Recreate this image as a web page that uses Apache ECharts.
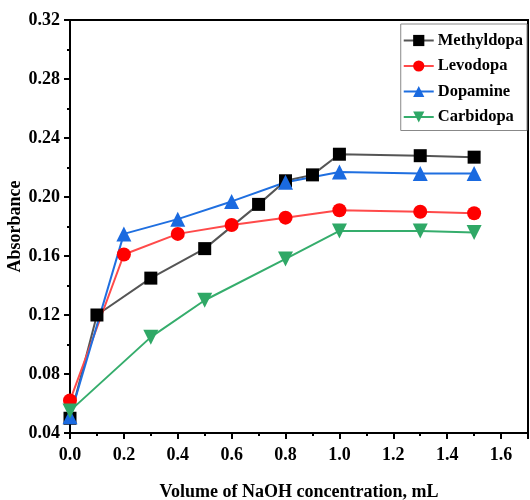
<!DOCTYPE html>
<html>
<head>
<meta charset="utf-8">
<script src="https://cdn.jsdelivr.net/npm/echarts@6/dist/echarts.min.js"></script>
<style>
  html, body { margin: 0; padding: 0; background: #fff; }
  #chart { width: 530px; height: 500px; }
</style>
</head>
<body>
<div id="chart"></div>
<script>
// Absorbance versus volume of NaOH added (mL)
const methyldopaX = [0, 0.1, 0.3, 0.5, 0.7, 0.8, 0.9, 1.0, 1.3, 1.5];
const methyldopaY = [0.050, 0.120, 0.145, 0.165, 0.195, 0.211, 0.215, 0.229, 0.228, 0.227];

const levodopaX = [0, 0.2, 0.4, 0.6, 0.8, 1.0, 1.3, 1.5];
const levodopaY = [0.062, 0.161, 0.175, 0.181, 0.186, 0.191, 0.190, 0.189];

const dopamineX = [0, 0.2, 0.4, 0.6, 0.8, 1.0, 1.3, 1.5];
const dopamineY = [0.051, 0.175, 0.185, 0.197, 0.210, 0.217, 0.216, 0.216];

const carbidopaX = [0, 0.3, 0.5, 0.8, 1.0, 1.3, 1.5];
const carbidopaY = [0.055, 0.105, 0.130, 0.158, 0.177, 0.177, 0.176];

const pairs = (xs, ys) => xs.map((x, i) => [x, ys[i]]);

const FONT = '"Liberation Serif", "Times New Roman", serif';
const textBase = { fontFamily: FONT, fontWeight: 'bold', color: '#000', fontSize: 18 };

function lineSeries(name, data, symbol, size, lineColor, markColor) {
  return {
    name, type: 'line', data, symbol, symbolSize: size,
    lineStyle: { color: lineColor, width: 2 },
    itemStyle: { color: markColor, borderWidth: 0 },
    emphasis: { disabled: true },
    z: 3
  };
}

const chart = echarts.init(document.getElementById('chart'), null, { renderer: 'canvas' });
chart.setOption({
  animation: false,
  backgroundColor: '#fff',
  grid: {
    left: 70, top: 20, right: 2, bottom: 67,
    containLabel: false, outerBoundsMode: 'none',
    show: true, borderColor: '#000', borderWidth: 2, backgroundColor: 'transparent'
  },
  legend: {
    right: 3, top: 24,
    orient: 'vertical',
    itemWidth: 30, itemHeight: 14, itemGap: 8.5,
    padding: [8, 4, 5, 2],
    borderColor: '#888', borderWidth: 1,
    backgroundColor: '#fff',
    textStyle: Object.assign({}, textBase, { fontSize: 16.5, padding: [0, 0, 0, -1] }),
    data: ['Methyldopa', 'Levodopa', 'Dopamine', 'Carbidopa']
  },
  xAxis: {
    type: 'value', min: 0, max: 1.7, interval: 0.2,
    name: 'Volume of NaOH concentration, mL',
    nameLocation: 'middle', nameGap: 50, nameMoveOverlap: false,
    nameTextStyle: textBase,
    axisLine: { show: true, onZero: false, lineStyle: { color: '#000', width: 2 } },
    axisTick: { show: true, length: 6, lineStyle: { color: '#000', width: 2 } },
    minorTick: { show: true, splitNumber: 2, length: 3, lineStyle: { color: '#000', width: 2 } },
    axisLabel: Object.assign({}, textBase, {
      margin: 13, showMaxLabel: false,
      formatter: v => v.toFixed(1)
    }),
    splitLine: { show: false }
  },
  yAxis: {
    type: 'value', min: 0.04, max: 0.32, interval: 0.04,
    name: 'Absorbance',
    nameLocation: 'middle', nameGap: 46, nameRotate: 90, nameMoveOverlap: false,
    nameTextStyle: textBase,
    axisLine: { show: true, onZero: false, lineStyle: { color: '#000', width: 2 } },
    axisTick: { show: true, length: 6, lineStyle: { color: '#000', width: 2 } },
    minorTick: { show: true, splitNumber: 2, length: 3, lineStyle: { color: '#000', width: 2 } },
    axisLabel: Object.assign({}, textBase, {
      margin: 10,
      formatter: v => v.toFixed(2)
    }),
    splitLine: { show: false }
  },
  series: [
    lineSeries('Methyldopa', pairs(methyldopaX, methyldopaY), 'rect', 13, '#555555', '#000000'),
    lineSeries('Levodopa', pairs(levodopaX, levodopaY), 'circle', 14, '#ff4a4a', '#ff0000'),
    lineSeries('Dopamine', pairs(dopamineX, dopamineY), 'triangle', 15, '#1f6fe0', '#1a6ae0'),
    Object.assign(
      lineSeries('Carbidopa', pairs(carbidopaX, carbidopaY), 'triangle', 15, '#35ad6c', '#2fa866'),
      { symbolRotate: 180 }
    )
  ]
});
</script>
</body>
</html>
